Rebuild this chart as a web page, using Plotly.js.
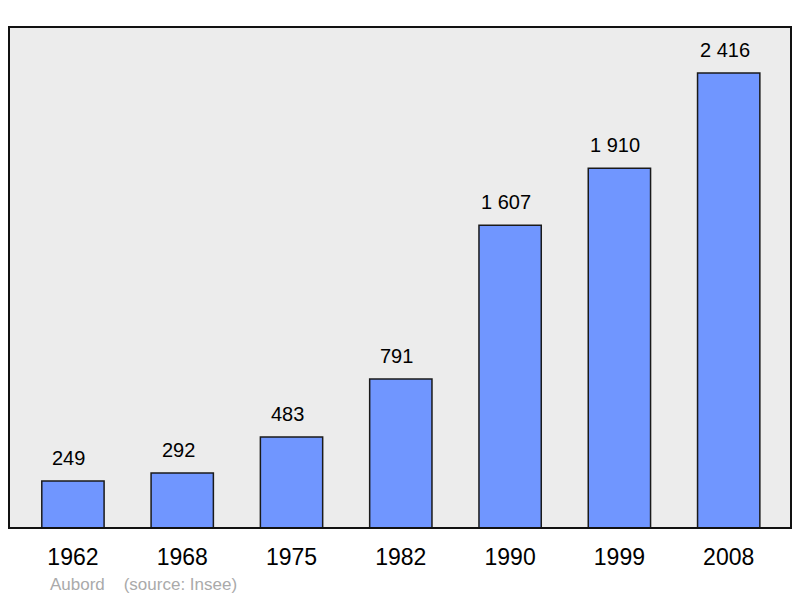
<!DOCTYPE html>
<html><head><meta charset="utf-8">
<script src="https://cdn.plot.ly/plotly-3.0.1.min.js"></script>
<style>body{margin:0;background:#fff}#c{width:800px;height:598px}</style>
</head><body><div id="c"></div>
<script>
const years = ['1962','1968','1975','1982','1990','1999','2008'];
const population = [249, 292, 483, 791, 1607, 1910, 2416];
const valueLabels = ['249','292','483','791','1 607','1 910','2 416'];
const sourceNote = 'Aubord\u00a0\u00a0\u00a0\u00a0(source: Insee)';

const trace = {
  type: 'bar', x: years, y: population, width: 0.57,
  marker: {color: '#7096ff', line: {color: '#1a1a1a', width: 1.5}},
  hoverinfo: 'none'
};
const annotations = years.map((y, i) => ({
  x: i, y: population[i], text: valueLabels[i], showarrow: false,
  yanchor: 'bottom', yshift: 10, xshift: -4, font: {family: 'Liberation Sans, Arial, sans-serif', size: 20, color: '#000'}
}));
annotations.push({xref: 'paper', yref: 'paper', x: 0.05, y: -0.113, xanchor: 'left', yanchor: 'middle',
  text: sourceNote, showarrow: false, font: {family: 'Liberation Sans, Arial, sans-serif', size: 17, color: '#aaaaaa'}});

const layout = {
  width: 800, height: 598,
  margin: {l: 9, r: 9, t: 27, b: 70},
  paper_bgcolor: '#ffffff', plot_bgcolor: '#ececec',
  showlegend: false,
  xaxis: {type: 'category', range: [-0.585, 6.57], showgrid: false, zeroline: false, showline: false,
    ticks: '', ticklabelstandoff: 13,
    tickfont: {family: 'Liberation Sans, Arial, sans-serif', size: 23, color: '#000'}},
  yaxis: {range: [0, 2660], showgrid: false, zeroline: false, showline: false, showticklabels: false, ticks: ''},
  shapes: [{type: 'rect', xref: 'paper', yref: 'paper', x0: 0, x1: 1, y0: 0, y1: 1,
    line: {color: '#111', width: 2}, layer: 'above'}],
  annotations: annotations
};
Plotly.newPlot('c', [trace], layout, {staticPlot: true});
</script></body></html>
